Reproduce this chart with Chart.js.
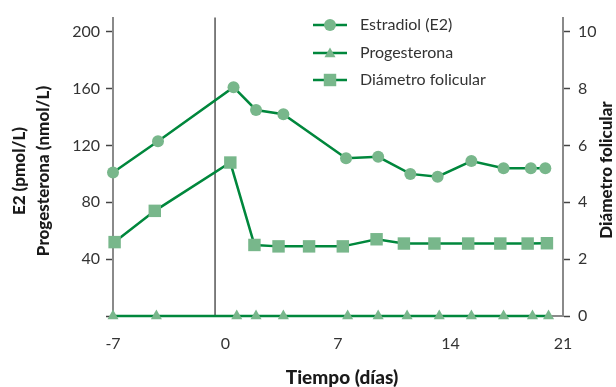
<!DOCTYPE html>
<html>
<head>
<meta charset="utf-8">
<script src="https://cdn.jsdelivr.net/npm/chart.js@4/dist/chart.umd.min.js"></script>
<style>
  html, body { margin: 0; padding: 0; background: #fff; }
  canvas { display: block; }
</style>
</head>
<body>
<canvas id="c" width="616" height="387"></canvas>
<script>
// Días de muestreo y valores de cada serie
const estradiolDays   = [-7, -4.2, 0.5, 1.9, 3.6, 7.5, 9.5, 11.5, 13.2, 15.3, 17.3, 19.0, 19.9];
const estradiolValues = [101, 123, 161, 145, 142, 111, 112, 100, 98, 109, 104, 104, 104];

const progesteronaDays   = [-7, -4.3, 0.7, 1.9, 3.6, 7.6, 9.5, 11.3, 13.3, 15.3, 17.3, 19.1, 20.1];
const progesteronaValues = [0, 0, 0, 0, 0, 0, 0, 0, 0, 0, 0, 0, 0];

const diametroDays   = [-6.9, -4.4, 0.3, 1.8, 3.3, 5.2, 7.3, 9.4, 11.1, 13.0, 15.1, 17.1, 18.8, 20.0];
const diametroValues = [2.6, 3.7, 5.4, 2.5, 2.45, 2.45, 2.45, 2.7, 2.55, 2.55, 2.55, 2.55, 2.55, 2.56];

// Ticks de los ejes
const xTicks      = [-7, 0, 7, 14, 21];
const leftTicks   = [0, 40, 80, 120, 160, 200];
const rightTicks  = [0, 2, 4, 6, 8, 10];
const markerDay   = -0.65;   // línea vertical de referencia

const LINE = '#00873c';
const MARK = '#78b78b';
const TEXT = '#333333';
const AXIS = '#8a8a8a';
const FONT = 'Lato, "Open Sans", sans-serif';

const toPoints = (xs, ys) => xs.map((x, i) => ({ x: x, y: ys[i] }));

const refLine = {
  id: 'refLine',
  beforeDatasetsDraw(chart) {
    const { ctx, chartArea, scales } = chart;
    const x = scales.x.getPixelForValue(markerDay);
    ctx.save();
    ctx.strokeStyle = '#555555';
    ctx.lineWidth = 1.5;
    ctx.beginPath();
    ctx.moveTo(x, chartArea.top);
    ctx.lineTo(x, chartArea.bottom);
    ctx.stroke();
    ctx.restore();
  }
};

function marker(ctx, style, r, x, y) {
  ctx.fillStyle = MARK;
  ctx.beginPath();
  if (style === 'circle') {
    ctx.arc(x, y, r, 0, Math.PI * 2);
  } else if (style === 'rect') {
    const s = r * Math.SQRT1_2;
    ctx.rect(x - s, y - s, 2 * s, 2 * s);
  } else {
    ctx.moveTo(x, y - r);
    ctx.lineTo(x + r * 0.866, y + r / 2);
    ctx.lineTo(x - r * 0.866, y + r / 2);
    ctx.closePath();
  }
  ctx.fill();
}

const titlesAndLegend = {
  id: 'titlesAndLegend',
  afterDraw(chart) {
    const { ctx, chartArea } = chart;
    ctx.save();
    ctx.fillStyle = '#1a1a1a';
    ctx.textAlign = 'center';
    ctx.textBaseline = 'middle';
    ctx.font = '900 19px ' + FONT;
    ctx.fillText('Tiempo (días)', (chartArea.left + chartArea.right) / 2 + 4, 378);

    ctx.font = '900 17px ' + FONT;
    const cy = 171;
    ctx.save();
    ctx.translate(20, cy);
    ctx.rotate(-Math.PI / 2);
    ctx.fillText('E2 (pmol/L)', 0, 0);
    ctx.restore();
    ctx.save();
    ctx.translate(44, cy);
    ctx.rotate(-Math.PI / 2);
    ctx.fillText('Progesterona (nmol/L)', 0, 0);
    ctx.restore();
    ctx.save();
    ctx.translate(607, 170);
    ctx.rotate(-Math.PI / 2);
    ctx.fillText('Diámetro folicular', 0, 0);
    ctx.restore();

    // Leyenda
    const rows = [25, 53, 80];
    chart.data.datasets.forEach((ds, i) => {
      const y = rows[i];
      ctx.strokeStyle = ds.borderColor;
      ctx.lineWidth = ds.borderWidth;
      ctx.beginPath();
      ctx.moveTo(313, y);
      ctx.lineTo(347, y);
      ctx.stroke();
      marker(ctx, ds.pointStyle, ds.pointRadius, 330, ds.pointStyle === 'triangle' ? y + 1 : y);
      ctx.fillStyle = TEXT;
      ctx.textAlign = 'left';
      ctx.font = '16px ' + FONT;
      ctx.fillText(ds.label, 360, y);
    });
    ctx.restore();
  }
};

new Chart(document.getElementById('c'), {
  type: 'line',
  data: {
    datasets: [
      {
        label: 'Estradiol (E2)',
        data: toPoints(estradiolDays, estradiolValues),
        yAxisID: 'y',
        borderColor: LINE, backgroundColor: MARK, borderWidth: 2.5,
        pointStyle: 'circle', pointRadius: 6, pointBackgroundColor: MARK,
        pointBorderWidth: 0, clip: false
      },
      {
        label: 'Progesterona',
        data: toPoints(progesteronaDays, progesteronaValues),
        yAxisID: 'y',
        borderColor: LINE, backgroundColor: MARK, borderWidth: 2.5,
        pointStyle: 'triangle', pointRadius: 6.4, pointBackgroundColor: MARK,
        pointBorderWidth: 0, clip: false
      },
      {
        label: 'Diámetro folicular',
        data: toPoints(diametroDays, diametroValues),
        yAxisID: 'y1',
        borderColor: LINE, backgroundColor: MARK, borderWidth: 2.5,
        pointStyle: 'rect', pointRadius: 8.8, pointBackgroundColor: MARK,
        pointBorderWidth: 0, clip: false
      }
    ]
  },
  options: {
    responsive: false,
    animation: false,
    devicePixelRatio: 1,
    layout: { padding: { top: 12, left: 0, right: 0, bottom: 0 } },
    plugins: { legend: { display: false }, tooltip: { enabled: false } },
    elements: { line: { tension: 0 } },
    scales: {
      x: {
        type: 'linear', min: -7, max: 21,
        afterBuildTicks: s => { s.ticks = xTicks.map(v => ({ value: v })); },
        afterFit: s => { s.height = 71; },
        grid: { drawOnChartArea: false, drawTicks: false },
        border: { display: true, color: AXIS, width: 2 },
        ticks: { padding: 18, color: TEXT, font: { family: FONT, size: 16 }, maxRotation: 0 }
      },
      y: {
        position: 'left', min: 0, max: 210,
        afterBuildTicks: s => { s.ticks = leftTicks.map(v => ({ value: v })); },
        afterFit: s => { s.width = 113; },
        grid: { drawOnChartArea: false, drawTicks: true, tickLength: 7, tickColor: '#444', tickWidth: 1.5 },
        border: { display: true, color: AXIS, width: 2 },
        ticks: { padding: 6, color: TEXT, font: { family: FONT, size: 16 },
                 callback: v => (v === 0 ? '' : v) }
      },
      y1: {
        position: 'right', min: 0, max: 10.5,
        afterBuildTicks: s => { s.ticks = rightTicks.map(v => ({ value: v })); },
        afterFit: s => { s.width = 53; },
        grid: { drawOnChartArea: false, drawTicks: true, tickLength: 7, tickColor: '#444', tickWidth: 1.5 },
        border: { display: true, color: AXIS, width: 2 },
        ticks: { padding: 8, color: TEXT, font: { family: FONT, size: 16 } }
      }
    }
  },
  plugins: [refLine, titlesAndLegend]
});
</script>
</body>
</html>
